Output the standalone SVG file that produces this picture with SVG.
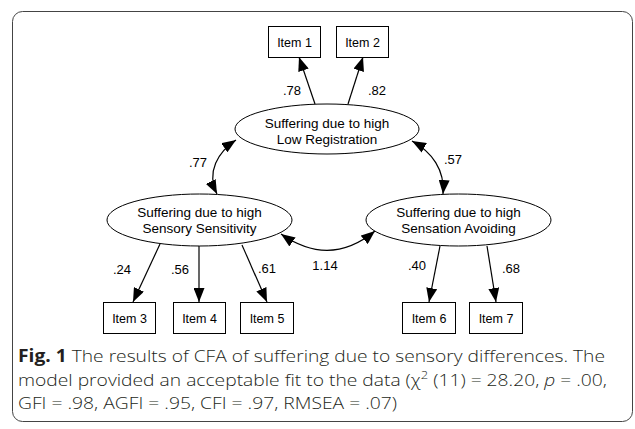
<svg xmlns="http://www.w3.org/2000/svg" width="635" height="429" viewBox="0 0 635 429">
<defs>
<marker id="ah" markerUnits="userSpaceOnUse" markerWidth="14" markerHeight="11" refX="14" refY="5.5" orient="auto-start-reverse" viewBox="0 0 14 11">
<path d="M0,0 L14,5.5 L0,11 z" fill="#000"/>
</marker>
<style>
.box{fill:#fff;stroke:#000;stroke-width:1}
.ell{fill:#fff;stroke:#000;stroke-width:1}
.t{font-family:"Liberation Sans",Arial,sans-serif;font-size:13.5px;fill:#000;text-anchor:middle}
.it{font-family:"Liberation Sans",Arial,sans-serif;font-size:12.5px;fill:#000;text-anchor:middle}
.n{font-family:"Liberation Sans",Arial,sans-serif;font-size:13px;fill:#000;text-anchor:middle}
.c{fill:none;stroke:#000;stroke-width:1.2}
.cap{font-family:"Open Sans","Noto Sans","Liberation Sans",sans-serif;font-size:17px;font-weight:300;fill:#231f20}
</style>
</defs>
<rect x="12.5" y="11.5" width="620" height="410" rx="10" fill="#fff" stroke="#444" stroke-width="1"/>

<g id="connectors">
<path class="c" d="M315,104 L299,57" marker-end="url(#ah)"/>
<path class="c" d="M348,104 L363,57" marker-end="url(#ah)"/>
<path class="c" d="M236,140 C218,152 206,172 217,194" marker-start="url(#ah)" marker-end="url(#ah)"/>
<path class="c" d="M412,141 C432,152 445,170 443,194" marker-start="url(#ah)" marker-end="url(#ah)"/>
<path class="c" d="M281,234 Q330,268 375,231" marker-start="url(#ah)" marker-end="url(#ah)"/>
<path class="c" d="M160,244 L133,302" marker-end="url(#ah)"/>
<path class="c" d="M199,246 L199,302" marker-end="url(#ah)"/>
<path class="c" d="M242,245 L267,302" marker-end="url(#ah)"/>
<path class="c" d="M440,246 L429,302" marker-end="url(#ah)"/>
<path class="c" d="M487,246 L496,302" marker-end="url(#ah)"/>
<text class="n" x="292" y="94.5">.78</text>
<text class="n" x="377" y="94.5">.82</text>
<text class="n" x="198" y="166.5">.77</text>
<text class="n" x="453" y="163.5">.57</text>
<text class="n" x="325" y="269.5">1.14</text>
<text class="n" x="122" y="273.5">.24</text>
<text class="n" x="180" y="273.5">.56</text>
<text class="n" x="267" y="272.5">.61</text>
<text class="n" x="417" y="269.5">.40</text>
<text class="n" x="511" y="272.5">.68</text>
</g>

<g id="item1"><rect class="box" x="268.5" y="26.5" width="52" height="31"/><text class="it" x="294.5" y="46.5">Item 1</text></g>
<g id="item2"><rect class="box" x="336.5" y="26.5" width="52" height="31"/><text class="it" x="362.5" y="46.5">Item 2</text></g>

<g id="lowreg"><ellipse class="ell" cx="327" cy="129" rx="92" ry="25"/><text class="t" x="327" y="128">Suffering due to high</text><text class="t" x="327" y="143.5">Low Registration</text></g>
<g id="senssens"><ellipse class="ell" cx="199.5" cy="220" rx="92.5" ry="26"/><text class="t" x="199.5" y="217">Suffering due to high</text><text class="t" x="199.5" y="233">Sensory Sensitivity</text></g>
<g id="sensavoid"><ellipse class="ell" cx="458.5" cy="220" rx="92.5" ry="26"/><text class="t" x="458.5" y="217">Suffering due to high</text><text class="t" x="458.5" y="233">Sensation Avoiding</text></g>

<g id="item3"><rect class="box" x="103.5" y="302.5" width="52" height="31"/><text class="it" x="129.5" y="322.5">Item 3</text></g>
<g id="item4"><rect class="box" x="173.5" y="302.5" width="52" height="31"/><text class="it" x="199.5" y="322.5">Item 4</text></g>
<g id="item5"><rect class="box" x="240.5" y="302.5" width="53" height="31"/><text class="it" x="267" y="322.5">Item 5</text></g>
<g id="item6"><rect class="box" x="402.5" y="302.5" width="53" height="31"/><text class="it" x="429" y="322.5">Item 6</text></g>
<g id="item7"><rect class="box" x="469.5" y="302.5" width="53" height="31"/><text class="it" x="496" y="322.5">Item 7</text></g>

<g id="caption">
<text class="cap" x="18" y="361.5" textLength="587" lengthAdjust="spacingAndGlyphs"><tspan font-weight="bold">Fig. 1</tspan>  The results of CFA of suffering due to sensory differences. The</text>
<text class="cap" x="18" y="385.5" textLength="589" lengthAdjust="spacingAndGlyphs">model provided an acceptable fit to the data (χ<tspan font-size="11.5" dy="-7">2</tspan><tspan dy="7"> (11) = 28.20, </tspan><tspan font-style="italic">p</tspan> = .00,</text>
<text class="cap" x="18" y="409" textLength="379" lengthAdjust="spacingAndGlyphs">GFI = .98, AGFI = .95, CFI = .97, RMSEA = .07)</text>
</g>
</svg>
